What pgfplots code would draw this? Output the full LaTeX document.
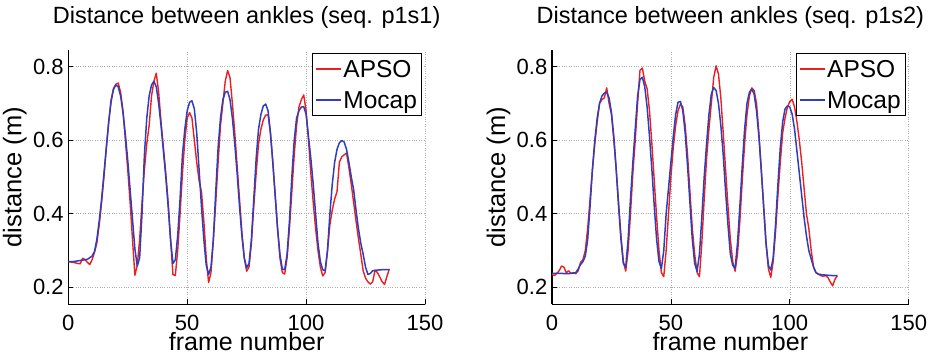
\documentclass[border=0pt]{standalone}
\usepackage{fontspec}
\setmainfont{Liberation Sans}
\usepackage{pgfplots}
\pgfplotsset{compat=1.18}
\definecolor{apso}{RGB}{235,30,34}
\definecolor{mocap}{RGB}{48,62,188}
\pgfplotsset{
  myax/.style={
    width=356.7pt, height=254.3pt, scale only axis,
    anchor=south west,
    xmin=0, xmax=150, ymin=0.154, ymax=0.845,
    enlargelimits=false,
    xtick={0,50,100,150}, ytick={0.2,0.4,0.6,0.8},
    yticklabels={0.2,0.4,0.6,0.8},
    /pgf/number format/assume math mode=true,
    axis lines*=left,
    axis line style={-, line width=1.1pt, black},
    tick style={line width=0.8pt, black},
    tick align=inside,
    major tick length=5pt,
    grid=major,
    grid style={dotted, gray!65, line width=0.6pt},
    tick label style={font=\fontsize{22}{26}\selectfont},
    xticklabel style={anchor=north, inner sep=0pt, yshift=-10.5pt},
    yticklabel style={anchor=east, inner sep=0pt, xshift=-4.5pt},
    title style={at={(axis description cs:0.5,1)}, anchor=base, yshift=20pt,
      font=\fontsize{23.5}{28}\selectfont},
    xlabel style={at={(axis description cs:0.5,0)}, anchor=base, yshift=-46.5pt, inner sep=0pt,
      font=\fontsize{25}{30}\selectfont},
    ylabel style={at={(axis description cs:-0.184,0.5)}, anchor=north, inner sep=0pt,
      font=\fontsize{25.5}{30}\selectfont},
    xlabel={frame number},
    ylabel={distance (m)},
    legend style={at={(rel axis cs:0.9907,0.987)}, anchor=north east,
      inner xsep=3pt, inner ysep=0pt,
      font=\fontsize{24.5}{29}\selectfont,
      nodes={inner xsep=1.5pt, inner ysep=3.5pt, text height=20.5pt, text depth=3.5pt},
      cells={anchor=west}, row sep=0pt},
    legend image code/.code={\draw[##1, line width=1.5pt] (0pt,0pt) -- (25pt,0pt);},
    every axis plot/.append style={line join=round},
  }
}
\begin{document}
\begin{tikzpicture}
\useasboundingbox (0,0) rectangle (934pt,355pt);
\begin{axis}[myax, at={(68.3pt,50.7pt)}, title={Distance between ankles (seq. p1s1)}]
\addplot[color=apso, line width=1.4pt] coordinates {
(0,0.270)(2,0.268)(4,0.265)(5,0.264)(6,0.279)(7,0.276)(8,0.268)(9,0.262)(10,0.275)
(11,0.295)(12,0.320)(13,0.370)(14,0.430)(15,0.500)(16,0.580)(17,0.650)(18,0.710)(19,0.740)
(20,0.752)(21,0.755)(22,0.730)(23,0.680)(24,0.600)(25,0.520)(26,0.430)(27,0.330)(28,0.233)
(29,0.260)(30,0.330)(31,0.430)(32,0.520)(33,0.590)(34,0.640)(35,0.720)(36,0.760)(37,0.782)
(38,0.730)(39,0.650)(40,0.580)(41,0.510)(42,0.430)(43,0.330)(44,0.235)(45,0.232)(46,0.300)
(47,0.400)(48,0.510)(49,0.600)(50,0.660)(51,0.675)(52,0.660)(53,0.600)(54,0.540)(55,0.490)
(56,0.460)(57,0.380)(58,0.280)(59,0.213)(60,0.240)(61,0.330)(62,0.430)(63,0.540)(64,0.640)
(65,0.700)(66,0.760)(67,0.789)(68,0.770)(69,0.700)(70,0.620)(71,0.530)(72,0.440)(73,0.350)
(74,0.280)(75,0.244)(76,0.255)(77,0.320)(78,0.420)(79,0.510)(80,0.590)(81,0.630)(82,0.655)
(83,0.668)(84,0.669)(85,0.620)(86,0.540)(87,0.450)(88,0.360)(89,0.280)(90,0.240)(91,0.236)
(92,0.280)(93,0.360)(94,0.460)(95,0.560)(96,0.640)(97,0.690)(98,0.710)(99,0.723)(100,0.680)
(101,0.600)(102,0.510)(103,0.430)(104,0.360)(105,0.300)(106,0.255)(107,0.231)(108,0.240)
(109,0.300)(110,0.370)(111,0.410)(112,0.440)(113,0.460)(114,0.540)(115,0.555)(116,0.560)
(117,0.565)(118,0.525)(119,0.480)(120,0.430)(121,0.380)(122,0.333)(123,0.290)(124,0.245)
(125,0.225)(126,0.215)(127,0.209)(128,0.215)(129,0.247)(130,0.240)(131,0.228)(132,0.215)
(133,0.208)(134,0.230)(135,0.250)
};
\addlegendentry{APSO}
\addplot[color=mocap, line width=1.5pt] coordinates {
(0,0.270)(2,0.270)(4,0.272)(6,0.274)(8,0.276)(10,0.285)(11,0.297)(12,0.330)(13,0.380)
(14,0.440)(15,0.510)(16,0.580)(17,0.650)(18,0.705)(19,0.738)(20,0.750)(21,0.745)(22,0.720)
(23,0.675)(24,0.615)(25,0.545)(26,0.465)(27,0.385)(28,0.305)(29,0.258)(30,0.280)(31,0.400)
(32,0.560)(33,0.660)(34,0.720)(35,0.750)(36,0.760)(37,0.745)(38,0.700)(39,0.640)(40,0.570)
(41,0.500)(42,0.420)(43,0.330)(44,0.265)(45,0.275)(46,0.340)(47,0.440)(48,0.560)(49,0.630)
(50,0.680)(51,0.703)(52,0.707)(53,0.685)(54,0.620)(55,0.520)(56,0.420)(57,0.330)(58,0.260)
(59,0.235)(60,0.255)(61,0.330)(62,0.460)(63,0.580)(64,0.660)(65,0.710)(66,0.730)(67,0.733)
(68,0.710)(69,0.660)(70,0.590)(71,0.510)(72,0.420)(73,0.340)(74,0.280)(75,0.253)(76,0.265)
(77,0.330)(78,0.440)(79,0.550)(80,0.630)(81,0.670)(82,0.693)(83,0.698)(84,0.680)(85,0.620)
(86,0.540)(87,0.450)(88,0.360)(89,0.290)(90,0.250)(91,0.248)(92,0.290)(93,0.380)(94,0.500)
(95,0.600)(96,0.660)(97,0.680)(98,0.690)(99,0.691)(100,0.670)(101,0.610)(102,0.550)
(103,0.480)(104,0.400)(105,0.320)(106,0.270)(107,0.248)(108,0.245)(109,0.300)(110,0.400)
(111,0.480)(112,0.540)(113,0.575)(114,0.593)(115,0.599)(116,0.595)(117,0.575)(118,0.540)
(119,0.500)(120,0.465)(121,0.410)(122,0.360)(123,0.320)(124,0.290)(125,0.255)(126,0.235)
(127,0.238)(128,0.245)(130,0.247)(132,0.248)(135,0.248)
};
\addlegendentry{Mocap}
\end{axis}
\begin{axis}[myax, at={(552pt,50.7pt)}, title={Distance between ankles (seq. p1s2)}]
\addplot[color=apso, line width=1.4pt] coordinates {
(0,0.235)(1,0.232)(2,0.238)(3,0.245)(4,0.258)(5,0.255)(6,0.240)(7,0.245)(8,0.238)(9,0.240)
(10,0.237)(11,0.245)(12,0.268)(13,0.275)(14,0.300)(15,0.360)(16,0.440)(17,0.520)(18,0.590)
(19,0.650)(20,0.700)(21,0.710)(22,0.715)(23,0.742)(24,0.700)(25,0.670)(26,0.600)(27,0.520)
(28,0.430)(29,0.340)(30,0.270)(31,0.244)(32,0.300)(33,0.400)(34,0.510)(35,0.600)(36,0.700)
(37,0.790)(38,0.796)(39,0.760)(40,0.740)(41,0.680)(42,0.590)(43,0.490)(44,0.390)(45,0.300)
(46,0.240)(47,0.229)(48,0.300)(49,0.400)(50,0.500)(51,0.580)(52,0.640)(53,0.680)(54,0.698)
(55,0.690)(56,0.640)(57,0.560)(58,0.460)(59,0.360)(60,0.290)(61,0.240)(62,0.229)(63,0.320)
(64,0.440)(65,0.550)(66,0.630)(67,0.700)(68,0.770)(69,0.802)(70,0.780)(71,0.715)(72,0.620)
(73,0.520)(74,0.420)(75,0.330)(76,0.270)(77,0.244)(78,0.290)(79,0.380)(80,0.490)(81,0.590)
(82,0.670)(83,0.720)(84,0.742)(85,0.735)(86,0.700)(87,0.620)(88,0.520)(89,0.420)(90,0.320)
(91,0.250)(92,0.227)(93,0.270)(94,0.350)(95,0.450)(96,0.540)(97,0.620)(98,0.660)(99,0.690)
(100,0.705)(101,0.711)(102,0.690)(103,0.650)(104,0.600)(105,0.540)(106,0.470)(107,0.400)
(108,0.360)(109,0.300)(110,0.255)(111,0.240)(112,0.236)(113,0.232)(114,0.230)(115,0.232)
(116,0.227)(117,0.215)(118,0.204)(119,0.222)(120,0.232)
};
\addlegendentry{APSO}
\addplot[color=mocap, line width=1.5pt] coordinates {
(0,0.238)(2,0.238)(4,0.238)(6,0.237)(8,0.238)(10,0.240)(11,0.250)(12,0.262)(13,0.270)
(14,0.285)(15,0.330)(16,0.420)(17,0.520)(18,0.600)(19,0.660)(20,0.700)(21,0.720)(22,0.728)
(23,0.730)(24,0.715)(25,0.675)(26,0.610)(27,0.520)(28,0.420)(29,0.330)(30,0.265)(31,0.255)
(32,0.330)(33,0.440)(34,0.540)(35,0.630)(36,0.720)(37,0.765)(38,0.771)(39,0.745)(40,0.690)
(41,0.610)(42,0.520)(43,0.420)(44,0.330)(45,0.270)(46,0.251)(47,0.300)(48,0.400)(49,0.470)
(50,0.540)(51,0.610)(52,0.670)(53,0.703)(54,0.705)(55,0.680)(56,0.620)(57,0.530)(58,0.430)
(59,0.330)(60,0.265)(61,0.244)(62,0.290)(63,0.390)(64,0.500)(65,0.590)(66,0.670)(67,0.725)
(68,0.743)(69,0.735)(70,0.700)(71,0.640)(72,0.560)(73,0.460)(74,0.370)(75,0.290)(76,0.260)
(77,0.252)(78,0.320)(79,0.420)(80,0.530)(81,0.630)(82,0.700)(83,0.730)(84,0.739)(85,0.725)
(86,0.680)(87,0.610)(88,0.520)(89,0.420)(90,0.320)(91,0.260)(92,0.247)(93,0.280)(94,0.370)
(95,0.480)(96,0.580)(97,0.650)(98,0.685)(99,0.693)(100,0.690)(101,0.670)(102,0.630)
(103,0.570)(104,0.510)(105,0.450)(106,0.390)(107,0.340)(108,0.300)(109,0.277)(110,0.255)
(111,0.240)(112,0.236)(114,0.234)(116,0.233)(118,0.232)(120,0.232)
};
\addlegendentry{Mocap}
\end{axis}
\end{tikzpicture}
\end{document}
